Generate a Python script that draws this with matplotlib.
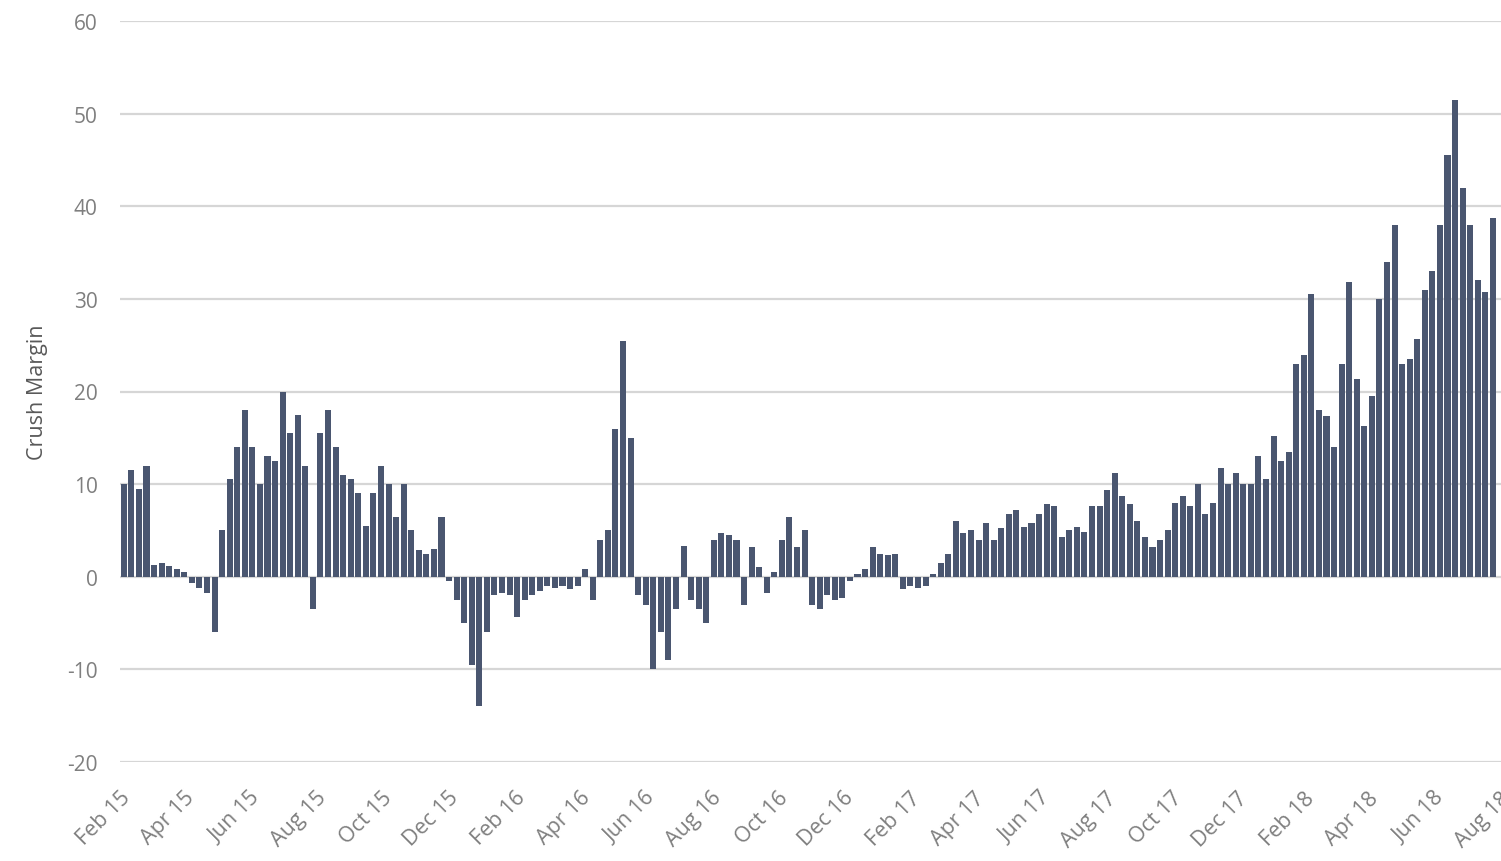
import matplotlib
matplotlib.use("Agg")
import matplotlib.pyplot as plt
import matplotlib.dates as mdates
import pandas as pd

# Weekly crush margin readings, starting first week of Feb 2015
values = [
    10, 11.5, 9.5, 12, 1.3, 1.5, 1.2, 0.8, 0.5, -0.7,
    -1.2, -1.8, -6, 5, 10.5, 14, 18, 14, 10, 13,
    12.5, 20, 15.5, 17.5, 12, -3.5, 15.5, 18, 14, 11,
    10.5, 9, 5.5, 9, 12, 10, 6.5, 10, 5, 2.9,
    2.5, 3, 6.5, -0.5, -2.5, -5, -9.5, -14, -6, -2,
    -1.8, -2, -4.3, -2.5, -2, -1.5, -1, -1.2, -1, -1.3,
    -1, 0.8, -2.5, 4, 5, 16, 25.5, 15, -2, -3,
    -10, -6, -9, -3.5, 3.3, -2.5, -3.5, -5, 4, 4.7,
    4.5, 4, -3, 3.2, 1, -1.8, 0.5, 4, 6.5, 3.2,
    5, -3, -3.5, -2, -2.5, -2.3, -0.5, 0.3, 0.8, 3.2,
    2.5, 2.3, 2.5, -1.3, -1, -1.2, -1, 0.3, 1.5, 2.5,
    6, 4.7, 5, 4, 5.8, 4, 5.3, 6.8, 7.2, 5.4,
    5.8, 6.8, 7.9, 7.6, 4.3, 5, 5.4, 4.8, 7.6, 7.6,
    9.4, 11.2, 8.7, 7.9, 6, 4.3, 3.2, 4, 5, 8,
    8.7, 7.6, 10, 6.8, 8, 11.7, 10, 11.2, 10, 10,
    13, 10.5, 15.2, 12.5, 13.5, 23, 23.9, 30.5, 18, 17.4,
    14, 23, 31.8, 21.3, 16.3, 19.5, 30, 34, 38, 23,
    23.5, 25.7, 31, 33, 38, 45.5, 51.5, 42, 38, 32,
    30.7, 38.7,
]
start_date = "2015-02-01"
y_ticks = [-20, -10, 0, 10, 20, 30, 40, 50, 60]
y_label = "Crush Margin"

dates = pd.date_range(start_date, periods=len(values), freq="7D") + pd.Timedelta(days=3.5)

plt.rcParams["font.family"] = ["Open Sans", "DejaVu Sans"]
plt.rcParams["axes.unicode_minus"] = False
fig = plt.figure(figsize=(15.01, 8.62), dpi=100)
ax = fig.add_axes([120 / 1501, 1 - 763 / 862, (1501 - 120) / 1501, (763 - 22) / 862])

ax.bar(dates, values, width=5.6, color="#4a5670", linewidth=0, zorder=3)

ax.set_ylim(-20, 60)
ax.set_xlim(pd.Timestamp("2015-02-01"), pd.Timestamp("2018-08-02"))
ax.set_yticks(y_ticks)
ax.yaxis.grid(True, color="#d6d6d6", linewidth=1.6, zorder=0)
ax.set_axisbelow(True)
for s in ax.spines.values():
    s.set_visible(False)

ax.xaxis.set_major_locator(mdates.MonthLocator(bymonth=[2, 4, 6, 8, 10, 12]))
ax.xaxis.set_major_formatter(mdates.DateFormatter("%b %y"))
ax.tick_params(axis="both", length=0, colors="#7f7f7f")
ax.tick_params(axis="y", pad=16, labelsize=15)
ax.tick_params(axis="x", pad=18, labelsize=15.5)
for lbl in ax.get_xticklabels():
    lbl.set_rotation(45)
    lbl.set_ha("right")
    lbl.set_rotation_mode("anchor")

ax.set_ylabel(y_label, fontsize=15.5, color="#595959", labelpad=14)

fig.savefig("out.png", dpi=100)
